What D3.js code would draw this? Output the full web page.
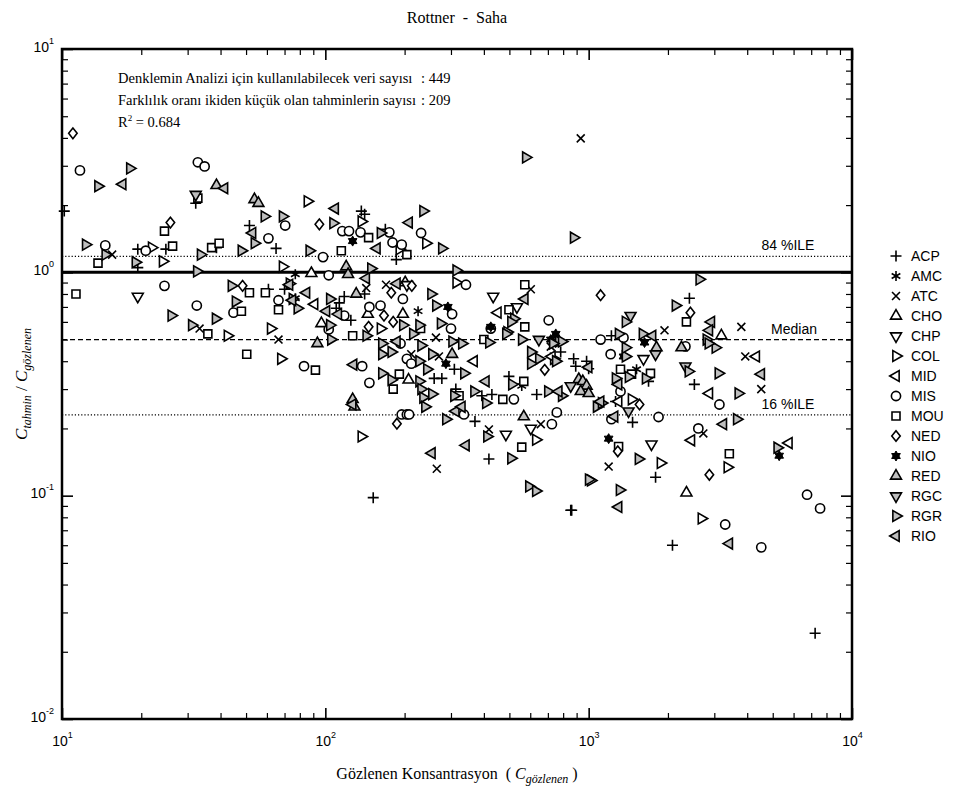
<!DOCTYPE html>
<html>
<head>
<meta charset="utf-8">
<script src="https://cdn.jsdelivr.net/npm/d3@7"></script>
<style>
  body { margin: 0; background: #fff; }
  svg { display: block; }
</style>
</head>
<body>
<svg id="chart" width="958" height="792"></svg>
<script>
// ---- Series: [observed concentration, predicted / observed] ----
const ACP = [[10.2,1.88],[32.2,2.04],[19.4,1.27],[19.4,1.05],[24.8,1.27],[38.6,1.29],[51.5,1.62],[65,1.28],[60.8,0.84],[70,0.84],[110,0.69],[118,0.78],[137,1.88],[141,1.82],[169,1.56],[186,1.14],[113,0.73],[125,0.61],[141,0.80],[259,0.335],[277,0.335],[309,0.368],[313,0.30],[393,0.28],[429,0.284],[370,0.215],[418,0.146],[498,0.342],[635,0.284],[783,0.44],[877,0.41],[893,0.38],[982,0.40],[1000,0.37],[152,0.098],[855,0.086],[862,0.086],[1220,0.52],[2413,0.765],[1688,0.325],[2520,0.315],[1120,0.26],[1265,0.264],[1468,0.213],[1795,0.121],[2081,0.060],[7244,0.0242]];
const AMC = [[76.9,0.98],[76.9,0.765],[225,0.67],[557,0.31],[1520,0.368]];
const ATC = [[15.5,1.20],[33.3,0.56],[66.4,0.50],[143,0.85],[170,0.88],[212,0.43],[270,0.42],[263,0.51],[603,0.84],[718,0.465],[1941,0.55],[3800,0.57],[3933,0.42],[4523,0.30],[418,0.198],[658,0.209],[265,0.132],[1191,0.135],[2726,0.19],[933,3.98]];
const CHO = [[88.5,0.99],[201,0.90],[145,0.65],[207,0.33],[96.6,0.59],[3191,0.52],[2351,0.103],[197,0.65]];
const CHP = [[19.4,0.78],[434,0.78],[534,0.70],[1615,0.41],[1732,0.17],[485,0.188],[603,0.20],[204,0.88]];
const COL = [[85.5,2.08],[21.9,1.29],[24.1,1.12],[68.8,1.06],[42.5,0.52],[62,0.56],[67.8,0.41],[137,1.69],[191,1.27],[241,1.35],[314,0.90],[162,0.56],[137,0.184],[630,0.178],[737,0.41],[1018,0.117],[1455,0.27],[1874,0.14],[2680,0.079],[3362,0.134]];
const MID = [[91,0.72],[367,0.40],[452,0.66],[725,0.42],[1299,0.264],[2873,0.287],[2455,0.177],[4329,0.42],[5760,0.172]];
const MIS = [[11.7,2.86],[32.8,3.11],[34.8,2.98],[14.6,1.32],[20.8,1.25],[24.5,0.87],[32.5,0.71],[44.8,0.66],[66.4,0.75],[70.4,1.62],[60.8,1.42],[98,1.17],[103,0.97],[116,1.53],[123,1.53],[136,1.51],[175,1.51],[180,1.36],[195,1.33],[231,1.50],[342,0.88],[147,0.70],[162,0.71],[197,0.76],[118,0.64],[303,0.65],[300,0.56],[83,0.38],[193,0.48],[138,0.38],[204,0.41],[212,0.39],[147,0.32],[195,0.231],[204,0.231],[208,0.231],[336,0.231],[425,0.56],[705,0.61],[520,0.27],[725,0.209],[757,0.236],[1110,0.50],[1356,0.51],[1212,0.43],[1321,0.293],[1220,0.22],[1842,0.225],[2330,0.466],[2609,0.20],[3137,0.256],[3300,0.0743],[4523,0.0587],[6750,0.101],[7566,0.0877],[103,0.555]];
const MOU = [[13.7,1.10],[11.3,0.80],[24.5,1.53],[26.3,1.31],[37,1.29],[39.5,1.35],[32.8,2.15],[50.3,0.43],[35.8,0.53],[48,0.67],[51.5,0.81],[59.2,0.81],[66.4,0.68],[91.7,0.365],[115,1.25],[146,1.43],[204,1.20],[127,0.52],[191,0.35],[181,0.30],[230,0.56],[322,0.28],[472,0.27],[400,0.50],[498,0.68],[572,0.88],[572,0.57],[567,0.325],[557,0.165],[1321,0.368],[1455,0.35],[1717,0.353],[2351,0.60],[1299,0.166],[3421,0.154]];
const NED = [[11,4.19],[25.8,1.67],[94.9,1.64],[48.5,0.87],[213,0.87],[178,0.81],[167,0.64],[181,0.60],[146,0.57],[187,0.21],[681,0.366],[1110,0.79],[1560,0.256],[2434,0.66],[1290,0.158],[2873,0.124]];
const NIO = [[127,1.38],[292,0.70],[287,0.39],[425,0.57],[750,0.53],[718,0.50],[1630,0.485],[1356,0.42],[1191,0.18],[5290,0.151]];
const RED = [[38.6,2.45],[53.8,2.12],[55.7,2.04],[120,1.06],[122,0.98],[131,0.80],[93.3,0.48],[303,0.43],[127,0.27],[129,0.25],[567,0.226],[917,0.332],[950,0.325],[982,0.31],[933,0.293],[1000,0.287],[1810,0.46],[2251,0.46]];
const RGC = [[32.2,2.23],[647,0.50],[855,0.31],[1442,0.64],[1795,0.43],[2331,0.38],[1417,0.239]];
const RGR = [[13.7,2.43],[18.1,2.92],[12.3,1.33],[14.6,1.20],[19,1.11],[33.6,1.20],[48,1.25],[32.5,1.01],[58.7,1.78],[68.8,1.78],[53.8,1.35],[86.9,1.25],[107,1.66],[44,0.87],[45.6,0.74],[26,0.64],[38.3,0.62],[31.1,0.58],[73.1,0.89],[78.3,0.69],[75,0.76],[104,0.76],[105,0.50],[104,0.58],[149,1.04],[235,1.88],[162,1.50],[277,1.28],[577,3.27],[877,1.43],[252,0.80],[263,0.71],[274,0.59],[197,0.58],[227,0.58],[143,0.52],[303,0.49],[330,0.48],[418,0.485],[557,0.50],[770,0.49],[164,0.48],[215,0.53],[231,0.47],[164,0.43],[178,0.44],[254,0.43],[227,0.40],[243,0.368],[336,0.353],[164,0.353],[178,0.33],[227,0.325],[231,0.30],[235,0.275],[239,0.25],[254,0.285],[308,0.28],[367,0.293],[407,0.26],[287,0.22],[411,0.184],[507,0.147],[593,0.11],[630,0.105],[603,0.44],[647,0.41],[603,0.39],[750,0.40],[511,0.315],[700,0.293],[790,0.28],[1072,0.25],[1120,0.26],[1265,0.335],[1380,0.42],[1380,0.60],[1299,0.53],[1380,0.46],[1417,0.34],[1645,0.335],[790,0.49],[731,0.48],[490,0.54],[520,0.62],[507,0.60],[485,0.53],[1601,0.53],[2799,0.50],[3028,0.46],[2848,0.48],[2630,0.93],[2136,0.71],[2392,0.36],[3108,0.353],[3700,0.287],[3650,0.22],[5200,0.164],[1000,0.118],[1310,0.106],[1546,0.146],[314,1.02]];
const RIO = [[17,2.48],[41.4,2.38],[109,1.93],[52.9,1.50],[208,1.67],[157,1.28],[143,0.94],[187,0.89],[73.1,0.88],[84.8,0.81],[101,0.67],[75,0.75],[112,0.65],[128,0.386],[187,0.49],[572,0.76],[407,0.325],[770,0.293],[1110,0.264],[1299,0.315],[1000,0.376],[127,0.256],[313,0.239],[330,0.25],[254,0.155],[342,0.168],[1254,0.226],[1748,0.52],[2923,0.60],[2873,0.55],[3247,0.209],[4523,0.35],[1299,0.089],[3420,0.061]];

const groupNames = ["ACP","AMC","ATC","CHO","CHP","COL","MID","MIS","MOU","NED","NIO","RED","RGC","RGR","RIO"];
const groupData = [ACP, AMC, ATC, CHO, CHP, COL, MID, MIS, MOU, NED, NIO, RED, RGC, RGR, RIO];

// Reference levels of the ratio
const refLabels = ["84 %ILE", "Median", "16 %ILE"];
const refValues = [1.18, 0.50, 0.23];
const unityValue = 1.0;

// Summary statistics
const statLabels = ["Denklemin Analizi için kullanılabilecek veri sayısı", "Farklılık oranı ikiden küçük olan tahminlerin sayısı"];
const statValues = [449, 209];
const rSquared = 0.684;

// Axis ticks
const xMajor = [10, 100, 1000, 10000];
const yMajor = [0.01, 0.1, 1, 10];

// ---- Layout ----
const L = 62, R = 852, T = 49, B = 719;
const serif = "'Liberation Serif', 'Times New Roman', serif";
const sans = "'Liberation Sans', Arial, sans-serif";

const svg = d3.select("#chart");
const x = d3.scaleLog().domain([10, 10000]).range([L, R]);
const y = d3.scaleLog().domain([0.01, 10]).range([B, T]);

const minorOf = majors => majors.slice(0, -1).flatMap(d => d3.range(2, 10).map(k => d * k));
const xMinor = minorOf(xMajor);
const yMinor = minorOf(yMajor);

// ---- Marker shapes (symbol types, size = radius in px) ----
const tri = angle => ({ draw(ctx, r) {
  for (let i = 0; i < 3; i++) {
    const a = angle + i * 2 * Math.PI / 3;
    const px = r * Math.cos(a), py = r * Math.sin(a);
    i ? ctx.lineTo(px, py) : ctx.moveTo(px, py);
  }
  ctx.closePath();
}});
const shapes = {
  plus: { draw(ctx, r) { ctx.moveTo(-r, 0); ctx.lineTo(r, 0); ctx.moveTo(0, -r); ctx.lineTo(0, r); } },
  times: { draw(ctx, r) { const s = r * 0.72; ctx.moveTo(-s, -s); ctx.lineTo(s, s); ctx.moveTo(-s, s); ctx.lineTo(s, -s); } },
  asterisk: { draw(ctx, r) {
    for (const a of [90, 30, -30]) {
      const t = a * Math.PI / 180, c = r * Math.cos(t), s = r * Math.sin(t);
      ctx.moveTo(-c, -s); ctx.lineTo(c, s);
    }
  }},
  hexagram: { draw(ctx, r) {
    for (const off of [-Math.PI / 2, Math.PI / 2]) {
      for (let i = 0; i < 3; i++) {
        const a = off + i * 2 * Math.PI / 3;
        i ? ctx.lineTo(r * Math.cos(a), r * Math.sin(a)) : ctx.moveTo(r * Math.cos(a), r * Math.sin(a));
      }
      ctx.closePath();
    }
  }},
  circle: { draw(ctx, r) { ctx.moveTo(r, 0); ctx.arc(0, 0, r, 0, 2 * Math.PI); } },
  square: { draw(ctx, r) { ctx.rect(-r, -r, 2 * r, 2 * r); } },
  diamond: { draw(ctx, r) { ctx.moveTo(0, -r); ctx.lineTo(r * 0.8, 0); ctx.lineTo(0, r); ctx.lineTo(-r * 0.8, 0); ctx.closePath(); } },
  up: tri(-Math.PI / 2), down: tri(Math.PI / 2), right: tri(0), left: tri(Math.PI)
};
const GRAY = "#bebebe";
const styles = {
  ACP: { type: "plus", r: 5.5, fill: "none" },
  AMC: { type: "asterisk", r: 5, fill: "none" },
  ATC: { type: "times", r: 5.5, fill: "none" },
  CHO: { type: "up", r: 6.3, fill: "#fff" },
  CHP: { type: "down", r: 6.3, fill: "#fff" },
  COL: { type: "right", r: 6.3, fill: "#fff" },
  MID: { type: "left", r: 6.3, fill: "#fff" },
  MIS: { type: "circle", r: 4.6, fill: "#fff" },
  MOU: { type: "square", r: 4, fill: "#fff" },
  NED: { type: "diamond", r: 5.3, fill: "#fff" },
  NIO: { type: "hexagram", r: 5, fill: "#000" },
  RED: { type: "up", r: 6.3, fill: GRAY },
  RGC: { type: "down", r: 6.3, fill: GRAY },
  RGR: { type: "right", r: 6.3, fill: GRAY },
  RIO: { type: "left", r: 6.3, fill: GRAY }
};
const symbolFor = name => d3.symbol().type(shapes[styles[name].type]).size(styles[name].r);

// ---- Axes: inward ticks on all four sides ----
function tickAxis(axisFn, scale, values, len, tr) {
  const g = svg.append("g").attr("transform", tr)
    .call(axisFn(scale).tickValues(values).tickSize(-len).tickFormat(""));
  g.select(".domain").remove();
  g.selectAll(".tick line").attr("stroke", "#000").attr("stroke-width", len > 7 ? 1.6 : 1.2);
  g.selectAll(".tick text").remove();
  return g;
}
tickAxis(d3.axisBottom, x, xMinor, 6, `translate(0,${B})`);
tickAxis(d3.axisTop, x, xMinor, 6, `translate(0,${T})`);
tickAxis(d3.axisLeft, y, yMinor, 6, `translate(${L},0)`);
tickAxis(d3.axisRight, y, yMinor, 6, `translate(${R},0)`);
const xMajG = tickAxis(d3.axisBottom, x, xMajor, 11, `translate(0,${B})`);
tickAxis(d3.axisTop, x, xMajor, 11, `translate(0,${T})`);
const yMajG = tickAxis(d3.axisLeft, y, yMajor, 11, `translate(${L},0)`);
tickAxis(d3.axisRight, y, yMajor, 11, `translate(${R},0)`);

// Power-of-ten tick labels
const expOf = v => Math.round(Math.log10(v));
xMajG.selectAll(".tick").append("text")
  .attr("y", 27).attr("text-anchor", "middle")
  .attr("font-family", sans).attr("font-size", 14).attr("fill", "#000")
  .each(function(d) {
    const t = d3.select(this);
    t.append("tspan").text("10");
    t.append("tspan").attr("font-size", 9).attr("dy", -8).text(expOf(d));
  });
yMajG.selectAll(".tick").append("text")
  .attr("x", -8).attr("y", 2).attr("text-anchor", "end")
  .attr("font-family", sans).attr("font-size", 14).attr("fill", "#000")
  .each(function(d) {
    const t = d3.select(this);
    t.append("tspan").text("10");
    t.append("tspan").attr("font-size", 9).attr("dy", -8).text(expOf(d));
  });

// ---- Reference lines ----
const plot = svg.append("g");
const dashes = ["1.2,2", "5,3", "1.2,2"];
plot.selectAll("line.ref").data(refValues).join("line").attr("class", "ref")
  .attr("x1", L).attr("x2", R).attr("y1", d => y(d)).attr("y2", d => y(d))
  .attr("stroke", "#000").attr("stroke-width", 1.3)
  .attr("stroke-dasharray", (d, i) => dashes[i]);
plot.append("line")
  .attr("x1", L).attr("x2", R).attr("y1", y(unityValue)).attr("y2", y(unityValue))
  .attr("stroke", "#000").attr("stroke-width", 3);
const refLabelX = [788, 794, 788];
plot.selectAll("text.ref").data(refValues).join("text").attr("class", "ref")
  .attr("x", (d, i) => refLabelX[i]).attr("y", d => y(d) - 6)
  .attr("text-anchor", "middle").attr("font-family", sans).attr("font-size", 14)
  .text((d, i) => refLabels[i]);

// ---- Scatter markers ----
groupNames.forEach((name, gi) => {
  const st = styles[name];
  plot.append("g").selectAll("path").data(groupData[gi]).join("path")
    .attr("transform", d => `translate(${x(d[0])},${y(d[1])})`)
    .attr("d", symbolFor(name))
    .attr("fill", st.fill).attr("stroke", "#000")
    .attr("stroke-width", name === "NIO" ? 1 : 1.6).attr("stroke-linejoin", "miter");
});

// ---- Frame ----
svg.append("rect").attr("x", L).attr("y", T).attr("width", R - L).attr("height", B - T)
  .attr("fill", "none").attr("stroke", "#000").attr("stroke-width", 2.5);

// ---- Summary text: labels with the colons aligned after the longest label ----
const stats = svg.append("g").attr("font-family", serif).attr("font-size", 14.5).attr("fill", "#000");
const statTexts = statLabels.map((lab, i) =>
  stats.append("text").attr("x", 118).attr("y", 83 + i * 22).text(lab));
const colonX = 118 + d3.max(statTexts, t => t.node().getComputedTextLength()) + 5;
statValues.forEach((v, i) => {
  stats.append("text").attr("x", colonX).attr("y", 83 + i * 22).text(": " + v);
});
const r2 = stats.append("text").attr("x", 118).attr("y", 127);
r2.append("tspan").text("R");
r2.append("tspan").attr("font-size", 9).attr("dy", -6).text("2");
r2.append("tspan").attr("dy", 6).text(" = " + rSquared.toFixed(3));

// ---- Titles ----
svg.append("text").attr("x", (L + R) / 2).attr("y", 23).attr("text-anchor", "middle")
  .attr("font-family", serif).attr("font-size", 16).attr("xml:space", "preserve")
  .text("Rottner  -  Saha");

const xt = svg.append("text").attr("x", (L + R) / 2).attr("y", 779).attr("text-anchor", "middle")
  .attr("font-family", serif).attr("font-size", 16).attr("xml:space", "preserve");
xt.append("tspan").text("Gözlenen Konsantrasyon  ( ");
xt.append("tspan").attr("font-style", "italic").text("C");
xt.append("tspan").attr("font-style", "italic").attr("font-size", 12).attr("dy", 4).text("gözlenen");
xt.append("tspan").attr("dy", -4).text(" )");

const yt = svg.append("text").attr("transform", `translate(27,${(T + B) / 2}) rotate(-90)`)
  .attr("text-anchor", "middle").attr("font-family", serif).attr("font-size", 17)
  .attr("xml:space", "preserve");
yt.append("tspan").attr("font-style", "italic").text("C");
yt.append("tspan").attr("font-style", "italic").attr("font-size", 12).attr("dy", 4).text("tahmin");
yt.append("tspan").attr("dy", -4).text(" / ");
yt.append("tspan").attr("font-style", "italic").text("C");
yt.append("tspan").attr("font-style", "italic").attr("font-size", 12).attr("dy", 4).text("gözlenen");

// ---- Legend ----
const legend = svg.append("g").attr("transform", "translate(896,256)");
const items = legend.selectAll("g").data(groupNames).join("g")
  .attr("transform", (d, i) => `translate(0,${i * 20})`);
items.append("path")
  .attr("d", d => symbolFor(d)())
  .attr("fill", d => styles[d].fill).attr("stroke", "#000")
  .attr("stroke-width", d => d === "NIO" ? 1 : 1.6);
items.append("text").attr("x", 15).attr("y", 5)
  .attr("font-family", sans).attr("font-size", 14).text(d => d);
</script>
</body>
</html>
